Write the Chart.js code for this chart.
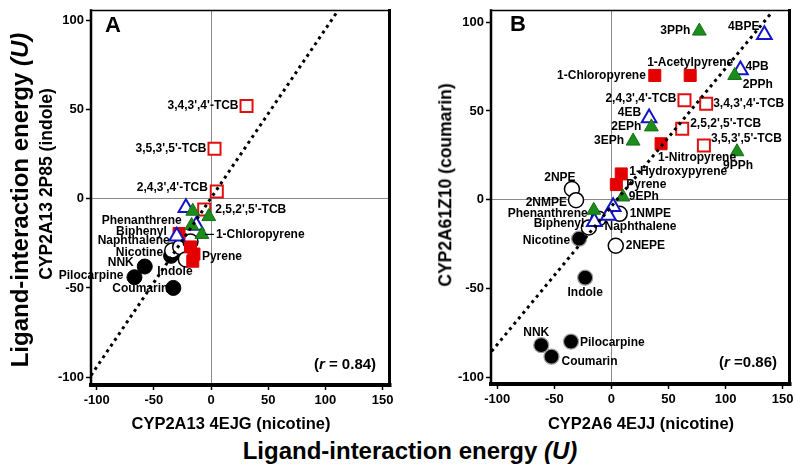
<!DOCTYPE html>
<html><head><meta charset="utf-8">
<script src="https://cdn.jsdelivr.net/npm/chart.js@4/dist/chart.umd.min.js"></script>
<style>
html,body{margin:0;padding:0;background:#fff;}
#wrap{position:relative;width:800px;height:466px;overflow:hidden;font-family:"Liberation Sans",Arial,sans-serif;font-weight:bold;color:#000}
.cv{position:absolute;top:0;width:400px;height:420px}
.t{position:absolute;white-space:nowrap;transform:translate(-50%,-50%);line-height:1}
.r{transform:translate(-50%,-50%) rotate(-90deg)}
</style></head><body>
<div id="wrap">
 <div class="cv" style="left:0"><canvas id="cA"></canvas></div>
 <div class="cv" style="left:400px"><canvas id="cB"></canvas></div>
 <div class="t" style="left:113px;top:25px;font-size:22px">A</div>
 <div class="t" style="left:518px;top:24px;font-size:22px">B</div>
 <div class="t" style="left:345px;top:363px;font-size:15px">(<i>r</i> = 0.84)</div>
 <div class="t" style="left:748px;top:361px;font-size:15px">(<i>r</i> =0.86)</div>
 <div class="t" style="left:231px;top:423px;font-size:16.5px">CYP2A13 4EJG (nicotine)</div>
 <div class="t" style="left:641px;top:423px;font-size:16.5px">CYP2A6 4EJJ (nicotine)</div>
 <div class="t r" style="left:47px;top:184px;font-size:17.5px">CYP2A13 2P85 (indole)</div>
 <div class="t r" style="left:446px;top:185px;font-size:17.5px">CYP2A61Z10 (coumarin)</div>
 <div class="t" style="left:410px;top:451px;font-size:24px">Ligand-interaction energy <i>(U)</i></div>
 <div class="t r" style="left:20px;top:200px;font-size:24px">Ligand-interaction energy <i>(U)</i></div>
</div>
<script>
// ---------- data ----------
const xTicks = [-100, -50, 0, 50, 100, 150];
const yTicks = [-100, -50, 0, 50, 100];

// Panel A: CYP2A13 4EJG (x) vs CYP2A13 2P85 (y)
const A_green    = [{x:-16,y:-7},{x:-2,y:-10},{x:-17,y:-15,n:'Phenanthrene'},{x:-8,y:-20,n:'1-Chloropyrene'}];
const A_blueOpen = [{x:-22,y:-5},{x:-13,y:-15},{x:-30,y:-21,n:'Biphenyl'}];
const A_redFill  = [{x:-28,y:-19.5},{x:-18,y:-27},{x:-16,y:-35},{x:-15,y:-31,n:'Pyrene'}];
const A_redOpen  = [{x:31,y:52,n:"3,4,3',4'-TCB"},{x:3,y:28,n:"3,5,3',5'-TCB"},{x:5,y:4,n:"2,4,3',4'-TCB"},{x:-6,y:-6,n:"2,5,2',5'-TCB"}];
const A_black    = [{x:-24,y:-25,n:'Naphthalene'},{x:-35,y:-32,n:'Nicotine'},{x:-58,y:-38,n:'NNK'},{x:-67,y:-44,n:'Pilocarpine'},{x:-33,y:-50,n:'Coumarin'}];
const A_white    = [{x:-34,y:-29},{x:-27,y:-27},{x:-18,y:-24},{x:-22,y:-34,n:'Indole'}];
const A_fit      = [{x:-105,y:-99},{x:111,y:105.5}];

// Panel B: CYP2A6 4EJJ (x) vs CYP2A61Z10 (y)
const B_green    = [{x:77,y:95,n:'3PPh'},{x:108,y:70,n:'2PPh'},{x:35,y:41,n:'2EPh'},{x:19,y:33,n:'3EPh'},{x:110,y:27,n:'9PPh'},{x:10,y:1.5,n:'9EPh'},{x:-15.5,y:-6,n:'Phenanthrene'}];
const B_blueOpen = [{x:134,y:93,n:'4BPE'},{x:113,y:73,n:'4PB'},{x:33,y:46,n:'4EB'},{x:1.5,y:-4},{x:-2.7,y:-9},{x:-15,y:-12.5,n:'Biphenyl'}];
const B_redFill  = [{x:38,y:70,n:'1-Chloropyrene'},{x:69,y:70,n:'1-Acetylpyrene'},{x:43.5,y:31.5,n:'1-Nitropyrene'},{x:8.6,y:14.5,n:'1-Hydroxypyrene'},{x:4.3,y:8.5,n:'Pyrene'}];
const B_redOpen  = [{x:64,y:56,n:"2,4,3',4'-TCB"},{x:83,y:54,n:"3,4,3',4'-TCB"},{x:62,y:40,n:"2,5,2',5'-TCB"},{x:81,y:30.5,n:"3,5,3',5'-TCB"}];
const B_white    = [{x:-34.6,y:6,n:'2NPE'},{x:-31,y:-0.3,n:'2NMPE'},{x:7.2,y:-8,n:'1NMPE'},{x:3.8,y:-26,n:'2NEPE'},{x:-11.3,y:-10.7,n:'Naphthalene'},{x:-19.8,y:-15.7}];
const B_black    = [{x:-28.3,y:-22,n:'Nicotine'},{x:-23,y:-44,n:'Indole'},{x:-61.5,y:-82,n:'NNK'},{x:-35.4,y:-80,n:'Pilocarpine'},{x:-52.5,y:-88.5,n:'Coumarin'}];
const B_fit      = [{x:-105,y:-85.5},{x:139.8,y:105}];

// ---------- label placement (pixel offsets) ----------
const A_lblPos = {
 "3,4,3',4'-TCB":[-8,0,'right'], "3,5,3',5'-TCB":[-8,0,'right'], "2,4,3',4'-TCB":[-9,-4,'right'],
 "2,5,2',5'-TCB":[11,0,'left'], 'Phenanthrene':[-10,-5,'right'], 'Biphenyl':[-10,-5,'right'],
 'Naphthalene':[-14,-3,'right'], '1-Chloropyrene':[14,0,'left',true], 'Pyrene':[8,3,'left'],
 'Nicotine':[-8,-3,'right'], 'NNK':[-11,-4,'right'], 'Pilocarpine':[-11,-2,'right'],
 'Indole':[-11,12,'center'], 'Coumarin':[-5,1,'right']
};
const B_lblPos = {
 '3PPh':[-9,0,'right'], '4BPE':[-5,-8,'right'], '4PB':[5,-3,'left'], '2PPh':[8,9,'left'],
 '1-Chloropyrene':[-9,0,'right'], '1-Acetylpyrene':[0,-13,'center'], "2,4,3',4'-TCB":[-8,-2,'right'],
 "3,4,3',4'-TCB":[7,0,'left'], '4EB':[-8,-5,'right'], '2EPh':[-10,0,'right'], "2,5,2',5'-TCB":[8,-5,'left'],
 '3EPh':[-9,0,'right'], "3,5,3',5'-TCB":[7,-7,'left'], '1-Nitropyrene':[-3,14,'left'], '9PPh':[1,14,'center'],
 '1-Hydroxypyrene':[8,-2,'left'], 'Pyrene':[10,0,'left'], '9EPh':[6,0,'left'], '1NMPE':[10,0,'left'],
 'Naphthalene':[6,8,'left'], '2NEPE':[10,0,'left'], '2NPE':[-12,-11,'center'], '2NMPE':[-9,3,'right'],
 'Phenanthrene':[-6,3,'right'], 'Biphenyl':[-10,2,'right'], 'Nicotine':[-9,2,'right'], 'Indole':[0,15,'center'],
 'NNK':[-5,-12,'center'], 'Pilocarpine':[9,1,'left'], 'Coumarin':[10,5,'left']
};

// ---------- styles ----------
const ST = {
 green:{pointStyle:'triangle',pointRadius:8,backgroundColor:'#1c8c1c',borderColor:'#157015',borderWidth:1},
 blue:{pointStyle:'triangle',pointRadius:8.5,backgroundColor:'#ffffff',borderColor:'#1414c8',borderWidth:2},
 redF:{pointStyle:'rect',pointRadius:8.5,backgroundColor:'#e40000',borderColor:'#e40000',borderWidth:1},
 redO:{pointStyle:'rect',pointRadius:8.5,backgroundColor:'#ffffff',borderColor:'#e01010',borderWidth:2},
 white:{pointStyle:'circle',pointRadius:7.5,backgroundColor:'#ffffff',borderColor:'#000000',borderWidth:1.5},
 blackA:{pointStyle:'circle',pointRadius:7.5,backgroundColor:'#000000',borderColor:'#000000',borderWidth:1},
 blackB:{pointStyle:'circle',pointRadius:7.5,backgroundColor:'#000000',borderColor:'#9a9a9a',borderWidth:1.2}
};
function ds(data, st, order){ return Object.assign({data, showLine:false, order, pointHoverRadius:0}, st); }
function fit(data){ return {type:'line', data, borderColor:'#000', borderWidth:3, borderDash:[3,4], pointRadius:0, fill:false, order:0, tension:0}; }

const FONT = '"Liberation Sans", Arial, sans-serif';

function labelPlugin(pos){
 return {id:'lbl', afterDatasetsDraw(chart){
  const c = chart.ctx; c.save();
  c.font = 'bold 12px ' + FONT; c.fillStyle = '#000'; c.textBaseline = 'middle';
  chart.data.datasets.forEach((d,i)=>{
   const meta = chart.getDatasetMeta(i);
   d.data.forEach((p,j)=>{
    if(!p.n || !pos[p.n]) return;
    const o = pos[p.n], el = meta.data[j];
    const x = el.x + o[0], y = el.y + o[1];
    c.textAlign = o[2];
    if(o[3]){ c.beginPath(); c.lineWidth = 1.2; c.strokeStyle = '#000'; c.moveTo(el.x+3, el.y); c.lineTo(x-2, y); c.stroke(); }
    c.fillText(p.n, x, y);
   });
  });
  c.restore();
 }};
}
const framePlugin = {id:'frame', beforeDatasetsDraw(chart){
 const {left,top,right,bottom} = chart.chartArea, c = chart.ctx;
 c.save(); c.strokeStyle = '#000'; c.lineCap = 'square';
 const L=(x1,y1,x2,y2,w)=>{c.beginPath();c.lineWidth=w;c.moveTo(x1,y1);c.lineTo(x2,y2);c.stroke();};
 L(left,top,right,top,1.5); L(right,top,right,bottom,3); L(left,top,left,bottom,2.5); L(left,bottom,right,bottom,4);
 c.restore();
}};

function makeChart(id, sets, pos, xr, yr, pad, xh){
 return new Chart(document.getElementById(id), {
  type:'scatter',
  data:{datasets:sets},
  options:{
   responsive:true, maintainAspectRatio:false, animation:false, events:[],
   layout:{padding:pad},
   plugins:{legend:{display:false}, tooltip:{enabled:false}},
   scales:{
    x:{type:'linear', min:xr[0], max:xr[1],
       afterBuildTicks:s=>{s.ticks = xTicks.map(v=>({value:v}));},
       afterFit:s=>{s.height = xh;},
       border:{display:false},
       grid:{color:c=>c.tick && c.tick.value===0 ? '#8a8a8a' : 'rgba(0,0,0,0)', lineWidth:1, tickColor:'#000', tickLength:5, tickWidth:1.5},
       ticks:{color:'#000', font:{family:FONT, weight:'bold', size:13}, padding:3, maxRotation:0}},
    y:{type:'linear', min:yr[0], max:yr[1],
       afterBuildTicks:s=>{s.ticks = yTicks.map(v=>({value:v}));},
       afterFit:s=>{s.width = 91;},
       border:{display:false},
       grid:{color:c=>c.tick && c.tick.value===0 ? '#8a8a8a' : 'rgba(0,0,0,0)', lineWidth:1, tickColor:'#000', tickLength:5, tickWidth:1.5},
       ticks:{color:'#000', font:{family:FONT, weight:'bold', size:13}, padding:2}}
   }
  },
  plugins:[framePlugin, labelPlugin(pos)]
 });
}

makeChart('cA', [
  fit(A_fit),
  ds(A_black, ST.blackA, 6), ds(A_white, ST.white, 5), ds(A_redFill, ST.redF, 4),
  ds(A_redOpen, ST.redO, 3), ds(A_blueOpen, ST.blue, 2), ds(A_green, ST.green, 1)
 ], A_lblPos, [-105,156], [-104.4,105.5], {left:0, top:2, right:3, bottom:0}, 35);

makeChart('cB', [
  fit(B_fit),
  ds(B_black, ST.blackB, 6), ds(B_white, ST.white, 5), ds(B_redFill, ST.redF, 4),
  ds(B_redOpen, ST.redO, 3), ds(B_blueOpen, ST.blue, 2), ds(B_green, ST.green, 1)
 ], B_lblPos, [-105.5,156], [-103.9,106.6], {left:0, top:2, right:2, bottom:0}, 36);
</script>
</body></html>
